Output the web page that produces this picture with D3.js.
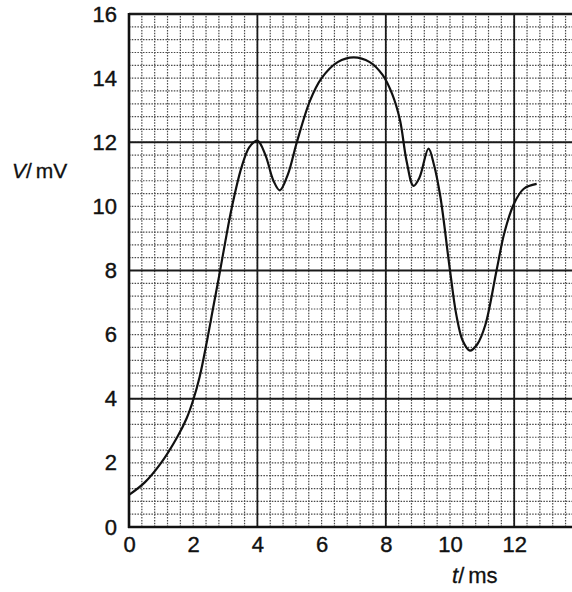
<!DOCTYPE html>
<html>
<head>
<meta charset="utf-8">
<script src="https://cdn.jsdelivr.net/npm/d3@7"></script>
<style>
  body { margin: 0; background: #fff; }
  svg { display: block; }
  text { font-family: "Liberation Sans", Arial, sans-serif; fill: #111; }
</style>
</head>
<body>
<svg width="572" height="592"></svg>
<script>
// time in ms and voltage in mV
const tValues = [0, 0.5, 1.0, 1.5, 1.8, 2.0, 2.2, 2.42, 2.62, 2.83, 3.0, 3.2, 3.5, 3.75, 4.0, 4.25, 4.5, 4.7, 4.95, 5.22, 5.64, 6.0, 6.5, 7.0, 7.5, 7.9, 8.2, 8.44, 8.65, 8.86, 9.05, 9.33, 9.5, 9.7, 10.0, 10.2, 10.4, 10.62, 10.85, 11.1, 11.45, 11.7, 12.0, 12.3, 12.7];
const vValues = [1.0, 1.4, 2.0, 2.8, 3.4, 3.96, 4.68, 5.75, 6.83, 7.95, 8.9, 9.95, 11.2, 11.85, 12.05, 11.6, 10.8, 10.5, 11.0, 11.97, 13.3, 14.0, 14.5, 14.65, 14.5, 14.1, 13.5, 12.7, 11.4, 10.64, 10.9, 11.8, 11.3, 10.3, 8.0, 6.6, 5.8, 5.5, 5.7, 6.3, 8.0, 9.2, 10.1, 10.55, 10.7];
const xTicks = [0, 2, 4, 6, 8, 10, 12];
const yTicks = [0, 2, 4, 6, 8, 10, 12, 14, 16];

const svg = d3.select("svg");
const x = d3.scaleLinear().domain([0, 14]).range([129, 129 + 14 * 32.1]);
const y = d3.scaleLinear().domain([0, 16]).range([527, 14]);

const data = tValues.map((t, i) => ({t: t, v: vValues[i]}));

// graph paper: fine dotted lines every 0.4, heavy lines every 4
const fine = d3.range(0, 14.01, 0.4);
const fineY = d3.range(0, 16.01, 0.4);
const grid = svg.append("g");

grid.selectAll(".fx").data(fine).enter().append("line")
    .attr("x1", d => x(d)).attr("x2", d => x(d))
    .attr("y1", y(0)).attr("y2", y(16))
    .attr("stroke", "#4a4a4a").attr("stroke-width", 1.2)
    .attr("stroke-dasharray", "1.5,1.3");

grid.selectAll(".fy").data(fineY).enter().append("line")
    .attr("x1", x(0)).attr("x2", x(14))
    .attr("y1", d => y(d)).attr("y2", d => y(d))
    .attr("stroke", "#4a4a4a").attr("stroke-width", 1.2)
    .attr("stroke-dasharray", "1.5,1.3");

grid.selectAll(".mx").data([4, 8, 12]).enter().append("line")
    .attr("x1", d => x(d)).attr("x2", d => x(d))
    .attr("y1", y(0)).attr("y2", y(16))
    .attr("stroke", "#1a1a1a").attr("stroke-width", 1.8);

grid.selectAll(".my").data([4, 8, 12, 16]).enter().append("line")
    .attr("x1", x(0)).attr("x2", x(14))
    .attr("y1", d => y(d)).attr("y2", d => y(d))
    .attr("stroke", "#1a1a1a").attr("stroke-width", d => d === 16 ? 2.4 : 1.8);

// axes
const xAxis = svg.append("g")
    .attr("transform", `translate(0,${y(0)})`)
    .call(d3.axisBottom(x).tickValues(xTicks).tickSize(0).tickPadding(9));
const yAxis = svg.append("g")
    .attr("transform", `translate(${x(0)},0)`)
    .call(d3.axisLeft(y).tickValues(yTicks).tickSize(0).tickPadding(12));

[xAxis, yAxis].forEach(a => {
    a.select(".domain").attr("stroke", "#111").attr("stroke-width", 2.6);
    a.selectAll("text").style("font-size", "22px")
        .style("font-family", "'Liberation Sans', Arial, sans-serif")
        .attr("fill", "#111").attr("stroke", "#111").attr("stroke-width", 0.4);
});
yAxis.select(".domain").attr("d", `M0,${y(0) + 1}V${y(16) - 1}`);
xAxis.select(".domain").attr("d", `M${x(0) - 1},0H${x(14)}`);

// trace
const line = d3.line()
    .x(d => x(d.t))
    .y(d => y(d.v))
    .curve(d3.curveCatmullRom.alpha(0.5));

svg.append("path")
    .datum(data)
    .attr("fill", "none")
    .attr("stroke", "#111")
    .attr("stroke-width", 2.2)
    .attr("d", line);

// axis titles
const vLabel = svg.append("text").attr("x", 12).attr("y", 178)
    .style("font-size", "21px").attr("stroke", "#111").attr("stroke-width", 0.3);
vLabel.append("tspan").style("font-style", "italic").text("V");
vLabel.append("tspan").text("/");
vLabel.append("tspan").attr("dx", 4).text("mV");

const tLabel = svg.append("text").attr("x", 452).attr("y", 583)
    .style("font-size", "22px").attr("stroke", "#111").attr("stroke-width", 0.3);
tLabel.append("tspan").style("font-style", "italic").text("t");
tLabel.append("tspan").text("/");
tLabel.append("tspan").attr("dx", 4).text("ms");
</script>
</body>
</html>
